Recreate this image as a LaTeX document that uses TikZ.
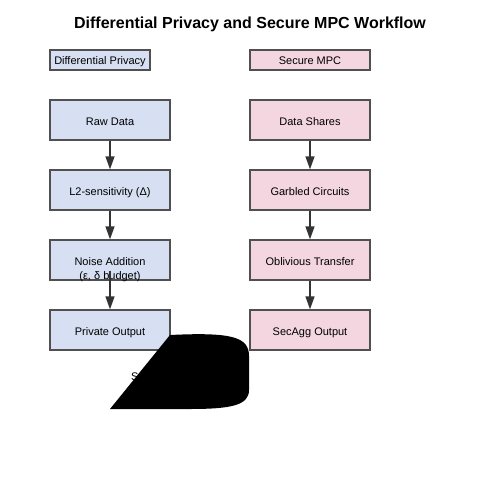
\documentclass[tikz,border=0pt]{standalone}
\usepackage{fontspec}
\setmainfont{Liberation Sans}
\usetikzlibrary{arrows.meta}
\definecolor{dpblue}{RGB}{214,224,242}
\definecolor{mpcpink}{RGB}{244,214,224}
\definecolor{edgegray}{RGB}{80,80,80}
\definecolor{arrowgray}{RGB}{51,51,51}
\tikzset{
  box/.style={draw=edgegray, line width=1.3pt, minimum width=120pt, minimum height=40pt, inner sep=0pt, font=\fontsize{11}{14}\selectfont, text height=10pt, text depth=0pt},
  labelbox/.style={draw=edgegray, line width=1.3pt, minimum height=20pt, inner sep=0pt, font=\fontsize{11}{13}\selectfont, text height=10pt, text depth=0pt},
  txt/.style={font=\fontsize{11}{13}\selectfont, anchor=base, inner sep=0pt},
  dp/.style={fill=dpblue},
  mpc/.style={fill=mpcpink},
  flow/.style={draw=arrowgray, line width=1.3pt, -{Triangle[length=13pt,width=9pt]}},
}
\begin{document}
\begin{tikzpicture}[x=1pt,y=-1pt]
\useasboundingbox (0,0) rectangle (500,500);
\node[font=\bfseries\fontsize{16}{19}\selectfont] (title) at (250,24) {Differential Privacy and Secure MPC Workflow};
\node[labelbox, dp, minimum width=100pt] (dplabel) at (100,60) {Differential Privacy};
\node[labelbox, mpc, minimum width=120pt] (mpclabel) at (310,60) {Secure MPC};
\node[box, dp] (raw) at (110,120) {Raw Data};
\node[box, dp] (sens) at (110,190) {L2-sensitivity (Δ)};
\node[box, dp] (noise) at (110,260) {};
\node[txt] (noise1) at (110,265) {Noise Addition};
\node[txt] (noise2) at (110,279) {(ε, δ budget)};
\node[box, dp] (priv) at (110,330) {Private Output};
\node[box, mpc] (shares) at (310,120) {Data Shares};
\node[box, mpc] (garb) at (310,190) {Garbled Circuits};
\node[box, mpc] (ot) at (310,260) {Oblivious Transfer};
\node[box, mpc] (secagg) at (310,330) {SecAgg Output};
\draw[flow] (raw.south) -- (sens.north);
\draw[flow] (sens.south) -- (noise.north);
\draw[flow] ([yshift=10pt]noise.south) -- (priv.north);
\draw[flow] (shares.south) -- (garb.north);
\draw[flow] (garb.south) -- (ot.north);
\draw[flow] (ot.south) -- (secagg.north);
\node[txt, anchor=base west] (s) at (131,380) {S};
\fill[black] (110,409) -- (170,335) .. controls (232,332) and (249,337) .. (249,356) -- (249,390) .. controls (249,405) and (232,409) .. (190,409) -- cycle;
\end{tikzpicture}
\end{document}
